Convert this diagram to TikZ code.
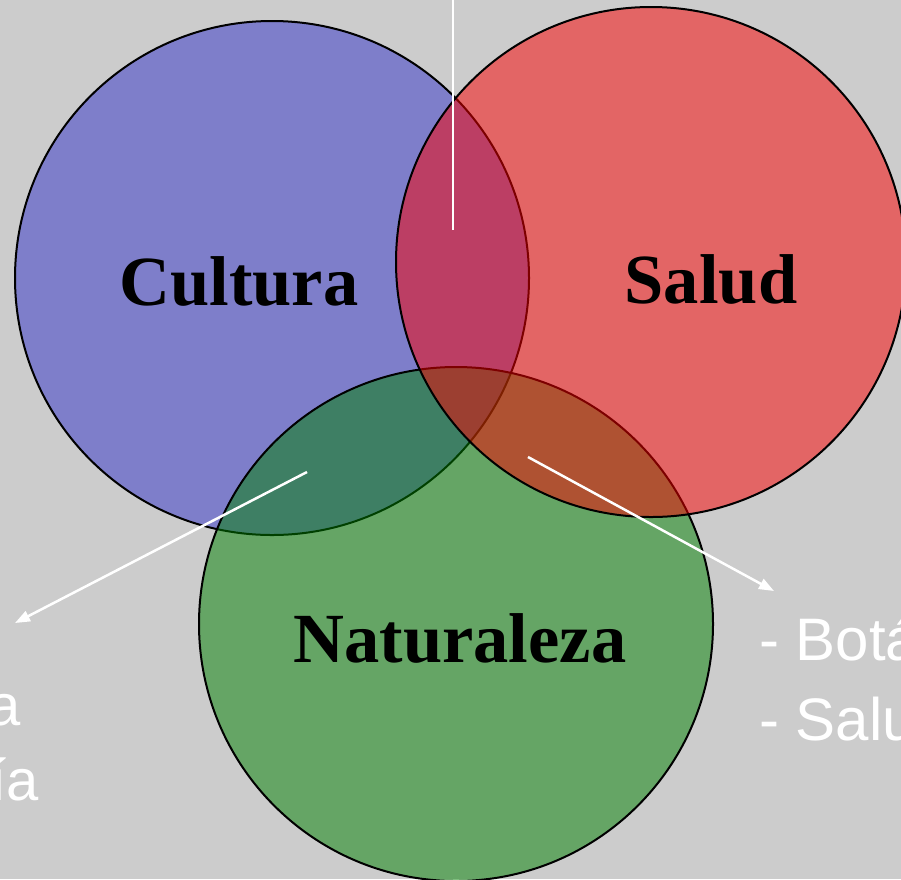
\documentclass[tikz,border=0pt]{standalone}
\usepackage{fontspec}
\setmainfont{Liberation Serif}
\newfontfamily\arialf{Liberation Sans}
\usetikzlibrary{arrows.meta}
\definecolor{bg}{RGB}{204,204,204}
\definecolor{cblue}{RGB}{50,50,202}
\definecolor{cred}{RGB}{250,0,0}
\definecolor{cgreen}{RGB}{0,128,0}
\begin{document}
\begin{tikzpicture}[x=1pt,y=-1pt,
  venn/.style={circle, draw=black, line width=2pt, fill opacity=0.5, inner sep=0pt, outer sep=0pt, minimum size=#1},
  bigword/.style={anchor=base, inner sep=0pt, font=\fontsize{70.5}{84}\selectfont\bfseries, text=black},
  sidetext/.style={inner sep=0pt, text=white, font=\arialf\fontsize{#1}{68}\selectfont},
  conn/.style={draw=white, line width=2.5pt, -{Triangle[length=15pt,width=11pt]}},
  plainline/.style={draw=white, line width=2.5pt}]
\useasboundingbox (0,0) rectangle (901,879);
\fill[bg] (0,0) rectangle (901,879);
% circles (order: blue, green, red)
\node[venn=514pt, fill=cblue] (cult) at (272,278) {};
\node[venn=514pt, fill=cgreen] (nat) at (456,624) {};
\node[venn=510pt, fill=cred] (sal) at (651,262) {};
% labels
\node[bigword] (lcult) at (239,305) {Cultura};
\node[bigword] (lsal) at (711,303) {Salud};
\node[bigword] (lnat) at (460,662) {Naturaleza};
% side texts
\node[sidetext=58, anchor=base east] (l1) at (21,725) {- Etnobotánica};
\node[sidetext=58, anchor=base east] (l2) at (39,800) {- Antropología};
\node[sidetext=60, anchor=base west] (r1) at (759,660) {- Botánica};
\node[sidetext=60, anchor=base west] (r2) at (759,740) {- Salud};
% connectors
\coordinate (vtop) at (453,-3);
\coordinate (vbot) at (453,230);
\coordinate (a1s) at (307,472);
\coordinate (a1e) at (15,623);
\coordinate (a2s) at (528,457);
\coordinate (a2e) at (774,591);
\draw[plainline] (vtop) -- (vbot);
\draw[conn] (a1s) -- (a1e);
\draw[conn] (a2s) -- (a2e);
\end{tikzpicture}
\end{document}
